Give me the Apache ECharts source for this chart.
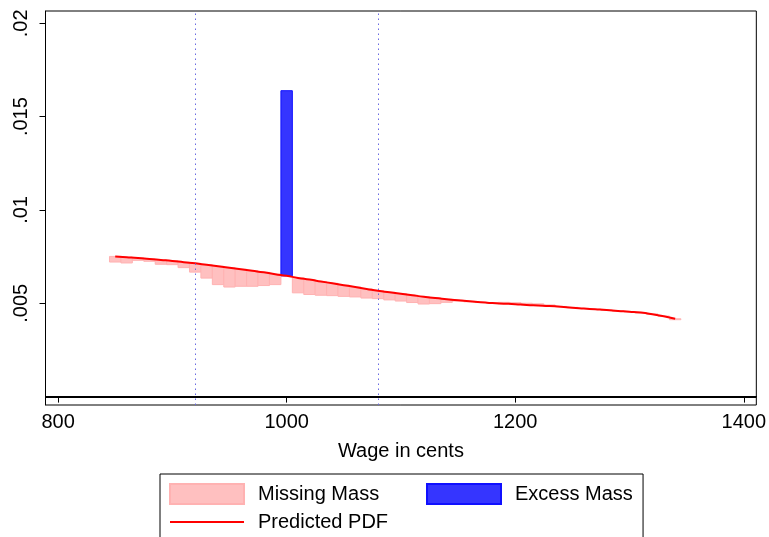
<!DOCTYPE html>
<html>
<head>
<meta charset="utf-8">
<script src="https://cdn.jsdelivr.net/npm/echarts@6/dist/echarts.min.js"></script>
<style>
  html, body { margin: 0; padding: 0; background: #fff; }
  #chart { width: 769px; height: 537px; }
</style>
</head>
<body>
<div id="chart"></div>
<script>
// wage bins (cents), bin width 10
const bins = [850, 860, 870, 880, 890, 900, 910, 920, 930, 940,
  950, 960, 970, 980, 990, 1000, 1010, 1020, 1030, 1040,
  1050, 1060, 1070, 1080, 1090, 1100, 1110, 1120, 1130, 1140,
  1150, 1160, 1170, 1180, 1190, 1200, 1210, 1220, 1230, 1240,
  1250, 1260, 1270, 1280, 1290, 1300, 1310, 1320, 1330, 1340]
// counterfactual density
const predicted = [.00751, .00747, .00743, .00737, .00732, .00727, .00720, .00714, .00706, .00698,
  .00690, .00682, .00674, .00666, .00656, .00647, .00636, .00627, .00617, .00607,
  .00597, .00587, .00577, .00567, .00559, .00551, .00543, .00535, .00528, .00522,
  .00516, .00511, .00505, .00501, .00498, .00495, .00491, .00488, .00485, .00481,
  .00476, .00472, .00468, .00464, .00459, .00455, .00450, .00441, .00430, .00417]
// observed density
const observed = [.00721, .00716, .00730, .00725, .00709, .00707, .00691, .00667, .00635, .00600,
  .00587, .00591, .00591, .00595, .00600, .01639, .00556, .00547, .00543, .00541,
  .00537, .00534, .00528, .00525, .00518, .00512, .00504, .00496, .00498, .00505,
  .00512, .00508, .00504, .00503, .00505, .00503, .00500, .00497, .00491, .00483,
  .00478, .00473, .00467, .00462, .00458, .00454, .00448, .00442, .00431, .00412]
const spikeBin = 1000
const binWidth = 10
const windowLines = [920, 1080]
const xTicks = [800, 1000, 1200, 1400]
const yTicks = [0.005, 0.01, 0.015, 0.02]
const yTickLabels = ['.005', '.01', '.015', '.02']

const missing = []
const excess = []
const pdfLine = []
for (let i = 0; i < bins.length; i++) {
  const item = [bins[i], Math.min(observed[i], predicted[i]), Math.max(observed[i], predicted[i])]
  if (bins[i] === spikeBin) excess.push(item)
  else missing.push(item)
  pdfLine.push([bins[i], predicted[i]])
}

function rangeBar(params, api) {
  const x = api.value(0)
  const p1 = api.coord([x - binWidth / 2, api.value(2)])
  const p2 = api.coord([x + binWidth / 2, api.value(1)])
  return {
    type: 'rect',
    shape: { x: p1[0], y: p1[1], width: p2[0] - p1[0], height: p2[1] - p1[1] },
    style: api.style()
  }
}

const font = 'Liberation Sans, Arial, sans-serif'
const legendText = { color: '#000', fontSize: 20, fontFamily: font, padding: [0, 0, 0, 9] }
const chart = echarts.init(document.getElementById('chart'), null, { renderer: 'canvas' })
chart.setOption({
  animation: false,
  backgroundColor: '#fff',
  textStyle: { fontFamily: font },
  grid: {
    left: 45.5, right: 12, top: 11, bottom: 132,
    show: true, borderColor: '#000', borderWidth: 1, backgroundColor: 'transparent'
  },
  xAxis: {
    type: 'value',
    min: 789,
    max: 1411,
    name: 'Wage in cents',
    nameLocation: 'middle',
    nameGap: 36,
    nameTextStyle: { color: '#000', fontSize: 20, fontFamily: font },
    axisLine: { lineStyle: { color: '#000', width: 1 } },
    axisTick: { customValues: xTicks, length: 6, lineStyle: { color: '#000' } },
    axisLabel: {
      customValues: xTicks, color: '#000', fontSize: 20, margin: 7, fontFamily: font,
      formatter: v => String(v)
    },
    splitLine: { show: false }
  },
  yAxis: {
    type: 'value',
    min: -0.00045,
    max: 0.02066,
    axisLine: { show: true, lineStyle: { color: '#000', width: 1 } },
    axisTick: { show: true, customValues: yTicks, length: 6, lineStyle: { color: '#000' } },
    axisLabel: {
      customValues: yTicks,
      rotate: 90,
      color: '#000',
      fontSize: 20,
      margin: 14,
      fontFamily: font,
      formatter: function (v) {
        const k = yTicks.findIndex(t => Math.abs(t - v) < 1e-9)
        return k >= 0 ? yTickLabels[k] : ''
      }
    },
    splitLine: { show: false }
  },
  legend: [
    {
      left: 160,
      top: 474,
      height: 60,
      orient: 'vertical',
      padding: [9, 255, 9, 9],
      itemGap: 7,
      itemWidth: 74,
      itemHeight: 20,
      borderColor: '#000',
      borderWidth: 1,
      textStyle: legendText,
      data: [
        { name: 'Missing Mass', icon: 'rect' },
        { name: 'Predicted PDF', itemStyle: { color: 'rgba(0,0,0,0)', borderWidth: 0, opacity: 0 } }
      ]
    },
    {
      left: 426,
      top: 483,
      padding: 0,
      itemWidth: 74,
      itemHeight: 20,
      textStyle: legendText,
      data: [{ name: 'Excess Mass', icon: 'rect' }]
    }
  ],
  series: [
    {
      name: 'Missing Mass',
      type: 'custom',
      renderItem: rangeBar,
      data: missing,
      itemStyle: { color: '#ffc0c0', borderColor: '#ffb2b2', borderWidth: 1 },
      z: 2
    },
    {
      name: 'Excess Mass',
      type: 'custom',
      renderItem: rangeBar,
      data: excess,
      itemStyle: { color: '#3535ff', borderColor: '#1010ff', borderWidth: 1 },
      z: 2
    },
    {
      name: 'Predicted PDF',
      type: 'line',
      data: pdfLine,
      smooth: true,
      symbol: 'none',
      lineStyle: { color: '#ff0000', width: 2 },
      itemStyle: { color: '#ff0000' },
      z: 3,
      markLine: {
        silent: true,
        symbol: 'none',
        label: { show: false },
        data: [
          { yAxis: 0, lineStyle: { color: '#000', width: 2, type: 'solid' } },
          ...windowLines.map(v => ({ xAxis: v, lineStyle: { color: '#6a6ae0', width: 1, type: [1.5, 3.5] } }))
        ]
      }
    }
  ]
})
</script>
</body>
</html>
